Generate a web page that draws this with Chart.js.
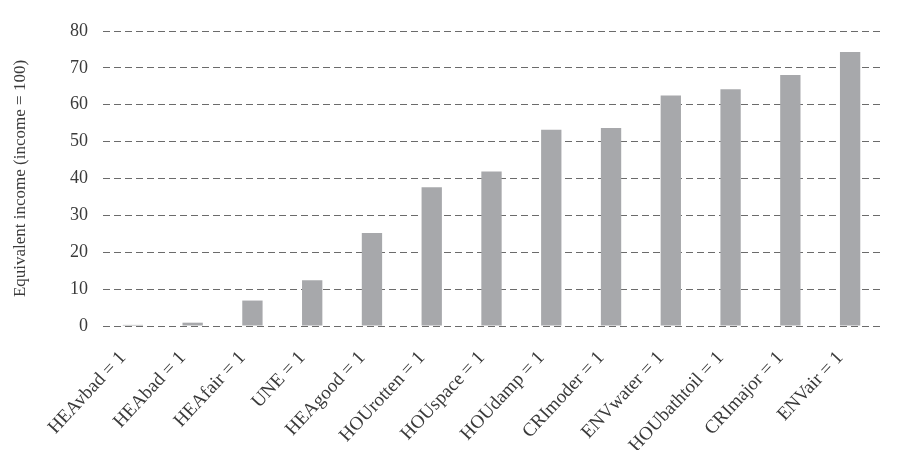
<!DOCTYPE html>
<html>
<head>
<meta charset="utf-8">
<script src="https://cdn.jsdelivr.net/npm/chart.js@4/dist/chart.umd.min.js"></script>
<style>
  html, body { margin: 0; padding: 0; background: #fff; }
  #wrap { width: 900px; height: 450px; position: relative; }
</style>
</head>
<body>
<div id="wrap"><canvas id="IncomeChart"></canvas></div>
<script>
// categories and values
const categories = ['HEAvbad = 1', 'HEAbad = 1', 'HEAfair = 1', 'UNE = 1', 'HEAgood = 1',
    'HOUrotten = 1', 'HOUspace = 1', 'HOUdamp = 1', 'CRImoder = 1', 'ENVwater = 1',
    'HOUbathtoil = 1', 'CRImajor = 1', 'ENVair = 1'];
const equivalentIncome = [0.3, 0.9, 6.9, 12.4, 25.2, 37.6, 41.9, 53.2, 53.7, 62.5, 64.2, 68.1, 74.3];
const yTicks = [0, 10, 20, 30, 40, 50, 60, 70, 80];

const serif = "'Liberation Serif', 'DejaVu Serif', serif";

const ctx = document.getElementById('IncomeChart').getContext('2d');
new Chart(ctx, {
    type: 'bar',
    data: {
        labels: categories,
        datasets: [{
            data: equivalentIncome,
            backgroundColor: '#a7a8ab',
            borderWidth: 0,
            categoryPercentage: 1,
            barPercentage: 0.34
        }]
    },
    options: {
        responsive: true,
        maintainAspectRatio: false,
        animation: false,
        layout: { padding: { top: 31, right: 20, left: 0, bottom: 0 } },
        plugins: {
            legend: { display: false },
            tooltip: { enabled: false }
        },
        scales: {
            x: {
                grid: { display: false, drawTicks: false },
                border: { display: false },
                ticks: {
                    color: '#3a3a3a',
                    font: { family: serif, size: 19 },
                    maxRotation: 47,
                    minRotation: 47,
                    padding: 21,
                    labelOffset: -10,
                    autoSkip: false
                },
                afterFit: function(scale) { scale.height = 124; }
            },
            y: {
                min: 0,
                max: 80,
                afterBuildTicks: function(scale) {
                    scale.ticks = yTicks.map(v => ({ value: v }));
                },
                grid: {
                    color: '#6b6b6b',
                    lineWidth: 1,
                    drawTicks: false
                },
                border: { display: false, dash: [7, 4] },
                ticks: {
                    color: '#3a3a3a',
                    font: { family: serif, size: 18 },
                    padding: 15
                },
                title: {
                    display: true,
                    text: 'Equivalent income (income = 100)',
                    color: '#3a3a3a',
                    font: { family: serif, size: 17 },
                    padding: { top: 10, bottom: 0 }
                },
                afterFit: function(scale) { scale.width = 103; }
            }
        }
    }
});
</script>
</body>
</html>
